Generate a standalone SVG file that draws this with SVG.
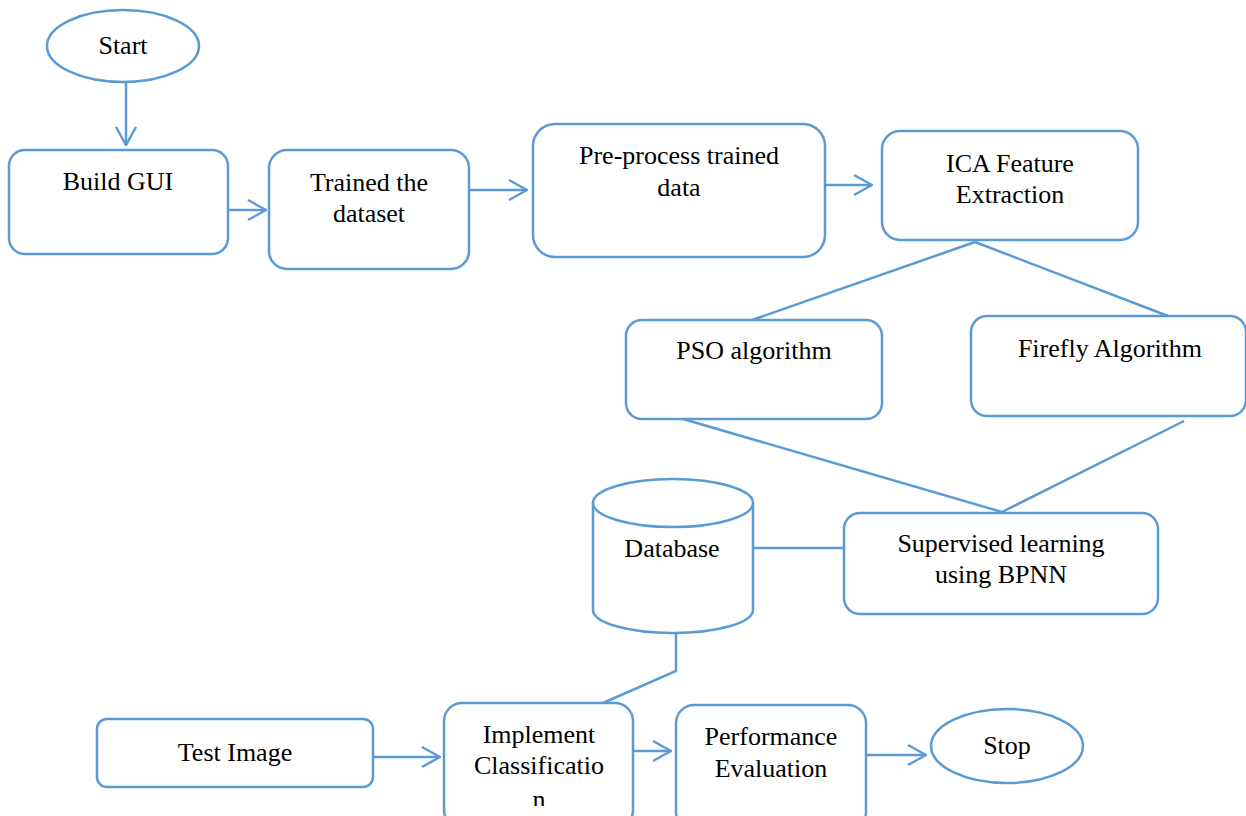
<svg xmlns="http://www.w3.org/2000/svg" width="1246" height="816" viewBox="0 0 1246 816">
  <style>
    .shape { fill: #ffffff; stroke: #5B9BD5; stroke-width: 2.5; }
    .conn { fill: none; stroke: #5B9BD5; stroke-width: 2.5; }
    .lbl { font-family: "Liberation Serif", "Times New Roman", serif; font-size: 26px; fill: #000000; text-anchor: middle; }
  </style>
  <defs>
    <marker id="open-arrow" viewBox="0 0 20 24" refX="19" refY="12" markerWidth="20" markerHeight="24" markerUnits="userSpaceOnUse" orient="auto">
      <path d="M1,2 L19,12 L1,22" fill="none" stroke="#5B9BD5" stroke-width="2.5"/>
    </marker>
    <clipPath id="impl-clip">
      <rect x="440" y="700" width="200" height="106"/>
    </clipPath>
  </defs>
  <rect width="1246" height="816" fill="#ffffff"/>

  <g id="connectors">
    <line class="conn" x1="126" y1="80" x2="126" y2="145" marker-end="url(#open-arrow)"/>
    <line class="conn" x1="229" y1="210" x2="266" y2="210" marker-end="url(#open-arrow)"/>
    <line class="conn" x1="467" y1="190" x2="527" y2="190" marker-end="url(#open-arrow)"/>
    <line class="conn" x1="826" y1="185" x2="872" y2="185" marker-end="url(#open-arrow)"/>
    <line class="conn" x1="975" y1="242" x2="752" y2="320"/>
    <line class="conn" x1="975" y1="242" x2="1168" y2="316"/>
    <line class="conn" x1="683" y1="419" x2="1002" y2="512"/>
    <line class="conn" x1="1184" y1="421" x2="1002" y2="512"/>
    <line class="conn" x1="753" y1="548" x2="844" y2="548"/>
    <polyline class="conn" points="676,632 676,671 603,703"/>
    <line class="conn" x1="373" y1="757" x2="440" y2="757" marker-end="url(#open-arrow)"/>
    <line class="conn" x1="627" y1="751" x2="671" y2="751" marker-end="url(#open-arrow)"/>
    <line class="conn" x1="867" y1="755" x2="926" y2="755" marker-end="url(#open-arrow)"/>
  </g>

  <g id="start">
    <ellipse class="shape" cx="123" cy="46" rx="76" ry="36"/>
    <text class="lbl" x="123" y="54">Start</text>
  </g>

  <g id="build-gui">
    <rect class="shape" x="9" y="150" width="219" height="104" rx="16"/>
    <text class="lbl" x="118" y="190">Build GUI</text>
  </g>

  <g id="trained-dataset">
    <rect class="shape" x="269" y="150" width="200" height="119" rx="18"/>
    <text class="lbl" x="369" y="191">Trained the</text>
    <text class="lbl" x="369" y="222">dataset</text>
  </g>

  <g id="preprocess">
    <rect class="shape" x="533" y="124" width="292" height="133" rx="22"/>
    <text class="lbl" x="679" y="164">Pre-process trained</text>
    <text class="lbl" x="679" y="196">data</text>
  </g>

  <g id="ica">
    <rect class="shape" x="882" y="131" width="256" height="109" rx="18"/>
    <text class="lbl" x="1010" y="172">ICA Feature</text>
    <text class="lbl" x="1010" y="203">Extraction</text>
  </g>

  <g id="pso">
    <rect class="shape" x="626" y="320" width="256" height="99" rx="16"/>
    <text class="lbl" x="754" y="359">PSO algorithm</text>
  </g>

  <g id="firefly">
    <rect class="shape" x="971" y="316" width="275" height="100" rx="16"/>
    <text class="lbl" x="1110" y="357">Firefly Algorithm</text>
  </g>

  <g id="database">
    <path class="shape" d="M593,503 L593,610 A80,23 0 0 0 753,610 L753,503"/>
    <ellipse class="shape" cx="673" cy="503" rx="80" ry="24"/>
    <text class="lbl" x="672" y="557">Database</text>
  </g>

  <g id="supervised">
    <rect class="shape" x="844" y="513" width="314" height="101" rx="16"/>
    <text class="lbl" x="1001" y="552">Supervised learning</text>
    <text class="lbl" x="1001" y="583">using BPNN</text>
  </g>

  <g id="test-image">
    <rect class="shape" x="97" y="719" width="276" height="68" rx="10"/>
    <text class="lbl" x="235" y="761">Test Image</text>
  </g>

  <g id="implement">
    <rect class="shape" x="444" y="703" width="189" height="125" rx="18"/>
    <text class="lbl" x="539" y="743">Implement</text>
    <text class="lbl" x="539" y="774">Classificatio</text>
    <text class="lbl" x="539" y="808" clip-path="url(#impl-clip)">n</text>
  </g>

  <g id="performance">
    <rect class="shape" x="676" y="705" width="190" height="125" rx="18"/>
    <text class="lbl" x="771" y="745">Performance</text>
    <text class="lbl" x="771" y="777">Evaluation</text>
  </g>

  <g id="stop">
    <ellipse class="shape" cx="1007" cy="746" rx="76" ry="37"/>
    <text class="lbl" x="1007" y="754">Stop</text>
  </g>
</svg>
